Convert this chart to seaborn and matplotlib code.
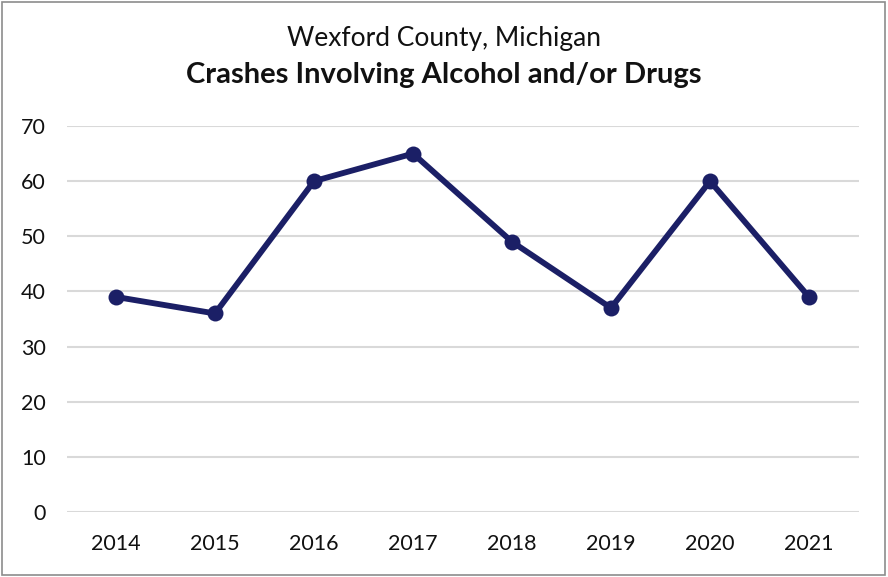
import pandas as pd
import matplotlib.pyplot as plt
import seaborn as sns

# data
years = ['2014', '2015', '2016', '2017', '2018', '2019', '2020', '2021']
crashes = [39, 36, 60, 65, 49, 37, 60, 39]

df = pd.DataFrame({'Year': years, 'Crashes': crashes})

sns.set_theme(style="white")
plt.rcParams['font.family'] = ['Lato', 'DejaVu Sans']

fig = plt.figure(figsize=(8.88, 5.77), dpi=100)
ax = fig.add_axes([0.0749, 0.1127, 0.8919, 0.6689])

sns.lineplot(data=df, x='Year', y='Crashes', ax=ax, color='#1b1f66',
             linewidth=4.2, marker='o', markersize=11.5,
             markeredgewidth=0, sort=False)

ax.set_xlim(-0.5, len(years) - 0.5)
ax.set_ylim(0, 70)
ax.set_yticks(range(0, 71, 10))
ax.yaxis.grid(True, color='#d9d9d9', linewidth=1.5)
ax.set_axisbelow(True)
for s in ax.spines.values():
    s.set_visible(False)
ax.tick_params(axis='y', length=0, pad=15, labelsize=15.5, labelcolor='#111111')
ax.tick_params(axis='x', length=0, pad=16, labelsize=15.5, labelcolor='#111111')
ax.set_xlabel('')
ax.set_ylabel('')

# titles
fig.text(0.5, 0.934, 'Wexford County, Michigan', ha='center', va='center',
         fontsize=19, color='#111111')
fig.text(0.5, 0.870, 'Crashes Involving Alcohol and/or Drugs', ha='center',
         va='center', fontsize=21, fontweight='bold', color='#111111')

# chart border
fig.patches.append(plt.Rectangle((0.002, 0.004), 0.995, 0.993, transform=fig.transFigure,
                                 fill=False, edgecolor='#8c8c8c', linewidth=1.2))

fig.savefig('out.png', dpi=100)
